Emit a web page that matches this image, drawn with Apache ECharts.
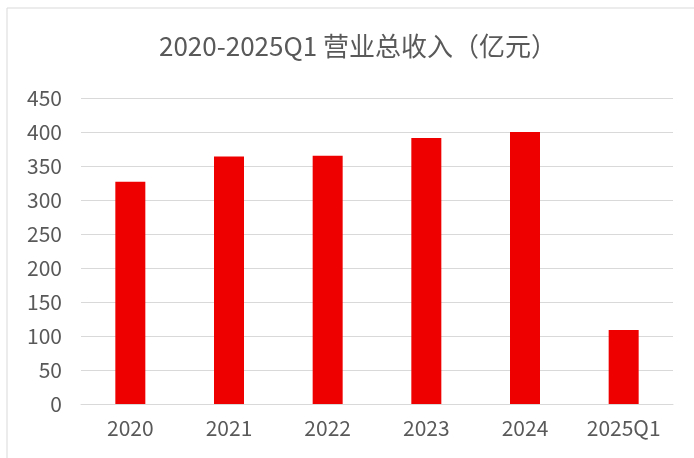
<!DOCTYPE html>
<html>
<head>
<meta charset="utf-8">
<script src="https://cdn.jsdelivr.net/npm/echarts@6/dist/echarts.min.js"></script>
<style>
  html, body { margin: 0; padding: 0; background: #fff; }
  #chart { width: 694px; height: 458px; }
</style>
</head>
<body>
<div id="chart"></div>
<script>
// Annual total operating revenue, 100M CNY
const categories = ['2020', '2021', '2022', '2023', '2024', '2025Q1'];
const revenue = [327, 364, 365, 391, 400, 109];
const yTicks = { min: 0, max: 450, interval: 50 };
const titleText = '2020-2025Q1 营业总收入（亿元）';

const textColor = '#595959';
const gridColor = '#D9D9D9';
const fontFamily = '"Noto Sans CJK SC", "Noto Sans", sans-serif';

const chart = echarts.init(document.getElementById('chart'), null, { renderer: 'canvas' });
chart.setOption({
  animation: false,
  backgroundColor: '#ffffff',
  graphic: [{
    type: 'rect',
    shape: { x: 7, y: 8, width: 720, height: 480 },
    style: { fill: 'none', stroke: gridColor, lineWidth: 1 },
    silent: true
  }],
  title: {
    text: titleText,
    left: 154,
    top: 28,
    textStyle: { color: textColor, fontSize: 26, fontWeight: 'normal', fontFamily: fontFamily }
  },
  grid: { left: 81, right: 21, top: 98, bottom: 54 },
  xAxis: {
    type: 'category',
    data: categories,
    axisLine: { show: true, lineStyle: { color: gridColor, width: 1 } },
    axisTick: { show: false },
    axisLabel: { color: textColor, fontSize: 21, fontFamily: fontFamily, margin: 14, interval: 0 }
  },
  yAxis: {
    type: 'value',
    min: yTicks.min,
    max: yTicks.max,
    interval: yTicks.interval,
    axisLine: { show: false },
    axisTick: { show: false },
    splitLine: { lineStyle: { color: gridColor, width: 1 } },
    axisLabel: { color: textColor, fontSize: 21, fontFamily: fontFamily, margin: 19 }
  },
  series: [{
    type: 'bar',
    data: revenue,
    barWidth: 30,
    itemStyle: { color: '#EE0000' }
  }]
});
</script>
</body>
</html>
